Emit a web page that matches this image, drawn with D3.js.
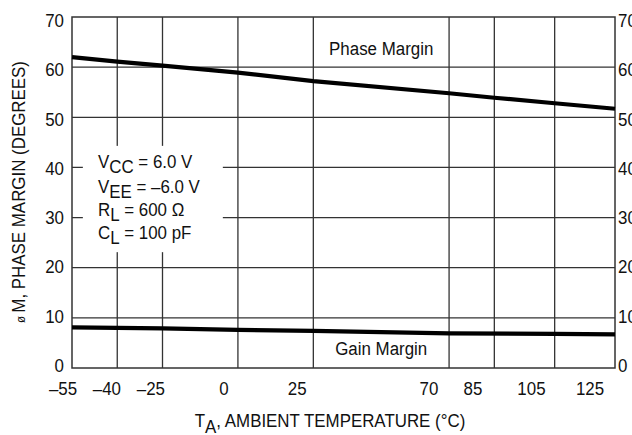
<!DOCTYPE html>
<html>
<meta charset="utf-8">
<head>
<title>Phase and gain margin vs temperature</title>
<script src="https://cdnjs.cloudflare.com/ajax/libs/d3/7.8.5/d3.min.js"></script>
<style>
  body { margin: 0; background: #fff; }
  text { font-family: "Liberation Sans", Arial, sans-serif; font-size: 19px; fill: #111; }
</style>
</head>

<body>
<script>

const width = 632,
    height = 435;

// tick values
const tempTicks = [-55, -40, -25, 0, 25, 70, 85, 105, 125];
const degTicks = [0, 10, 20, 30, 40, 50, 60, 70];

// curves
const phaseTemps = [-55, -40, -25, 0, 25, 70, 85, 105, 125];
const phaseDeg = [62.0, 61.1, 60.3, 58.9, 57.2, 54.8, 53.9, 52.8, 51.7];
const gainTemps = [-55, -25, 0, 25, 70, 105, 125];
const gainDeg = [8.1, 7.9, 7.6, 7.4, 6.9, 6.8, 6.7];

const plot = {left: 72, right: 615, top: 17, bottom: 368};
// the original lettering is a narrow sans, so squeeze the glyphs a bit
const squeeze = "scale(0.89,1)";

const svg = d3.select("body")
    .append("svg")
    .attr("width", width)
    .attr("height", height);

const x = d3.scaleLinear().domain([-55, 125]).range([plot.left, plot.right]);
const y = d3.scaleLinear().domain([0, 70]).range([plot.bottom, plot.top]);

// the tick labels in the original sit a little off the grid lines
const xLabel = d3.scaleLinear().domain([-55, 125]).range([63, 590]);
const yLabel = d3.scaleLinear().domain([0, 70]).range([365, 20]);

function label(px, py, anchor) {
    return svg.append("text")
        .attr("transform", `translate(${px},${py}) ${squeeze}`)
        .attr("text-anchor", anchor || "start");
}

// grid
svg.append("g")
    .selectAll("line")
    .data(tempTicks.filter(t => t > -55 && t < 125))
    .join("line")
    .attr("x1", d => x(d)).attr("x2", d => x(d))
    .attr("y1", plot.top).attr("y2", plot.bottom)
    .attr("stroke", "#333").attr("stroke-width", 1.3);
svg.append("g")
    .selectAll("line")
    .data(degTicks.filter(v => v > 0 && v < 70))
    .join("line")
    .attr("x1", plot.left).attr("x2", plot.right)
    .attr("y1", d => y(d)).attr("y2", d => y(d))
    .attr("stroke", "#333").attr("stroke-width", 1.3);

// white box behind the conditions text breaks the grid
svg.append("rect")
    .attr("x", x(-51.4))
    .attr("y", y(44.3))
    .attr("width", x(-5) - x(-51.4))
    .attr("height", y(23.1) - y(44.3))
    .attr("fill", "#fff");

// frame
svg.append("rect")
    .attr("x", plot.left).attr("y", plot.top)
    .attr("width", plot.right - plot.left)
    .attr("height", plot.bottom - plot.top)
    .attr("fill", "none")
    .attr("stroke", "#333").attr("stroke-width", 1.5);

// curves
const line = d3.line().x(d => x(d[0])).y(d => y(d[1]));
svg.append("path")
    .datum(d3.zip(phaseTemps, phaseDeg))
    .attr("d", line)
    .attr("fill", "none").attr("stroke", "#000").attr("stroke-width", 4.2);
svg.append("path")
    .datum(d3.zip(gainTemps, gainDeg))
    .attr("d", line)
    .attr("fill", "none").attr("stroke", "#000").attr("stroke-width", 4.2);

// tick labels
svg.append("g")
    .selectAll("text")
    .data(tempTicks)
    .join("text")
    .attr("transform", d => `translate(${xLabel(d)},395) ${squeeze}`)
    .attr("text-anchor", "middle")
    .text(d => d < 0 ? "\u2013" + Math.abs(d) : d);
svg.append("g")
    .selectAll("text")
    .data(degTicks)
    .join("text")
    .attr("transform", d => `translate(64,${yLabel(d) + 7}) ${squeeze}`)
    .attr("text-anchor", "end")
    .text(d => d);
svg.append("g")
    .selectAll("text")
    .data(degTicks)
    .join("text")
    .attr("transform", d => `translate(618,${yLabel(d) + 7}) ${squeeze}`)
    .text(d => d);

// curve labels
label(x(47.5), y(62.4), "middle").text("Phase Margin");
label(x(47.5), y(2.6), "middle").text("Gain Margin");

// test conditions
const conditions = [
    ["V", "CC", " = 6.0 V"],
    ["V", "EE", " = \u20136.0 V"],
    ["R", "L", " = 600 \u03A9"],
    ["C", "L", " = 100 pF"]
];
const condY = [39.9, 35.0, 30.3, 25.7];
conditions.forEach((c, i) => {
    const t = label(x(-46.4), y(condY[i]));
    t.append("tspan").text(c[0]);
    t.append("tspan").attr("dy", 5).text(c[1]);
    t.append("tspan").attr("dy", -5).text(c[2]);
});

// axis titles
const xt = label(330, 427, "middle");
xt.append("tspan").text("T");
xt.append("tspan").attr("dy", 6).text("A");
xt.append("tspan").attr("dy", -6).text(", AMBIENT TEMPERATURE (\u00B0C)");

const yt = svg.append("text")
    .attr("transform", `translate(25,192) rotate(-90) ${squeeze}`)
    .attr("text-anchor", "middle");
yt.append("tspan").attr("font-size", "13px").text("\u00F8 ");
yt.append("tspan").text("M, PHASE MARGIN (DEGREES)");

</script>

</body>
</html>
